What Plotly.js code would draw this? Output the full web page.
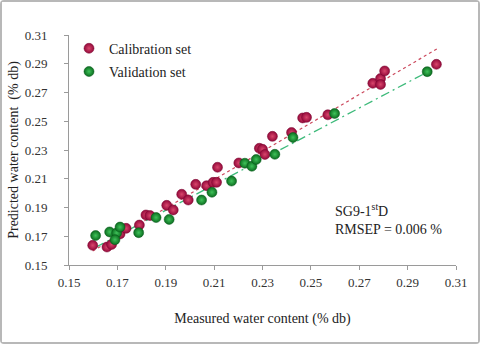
<!DOCTYPE html>
<html>
<head>
<meta charset="utf-8">
<script src="https://cdn.plot.ly/plotly-3.0.1.min.js"></script>
<style>
  html, body { margin: 0; padding: 0; background: #fff; }
  #chart { width: 480px; height: 344px; box-sizing: border-box; border: 2px solid #b8b8b8; border-radius: 4px; }
</style>
</head>
<body>
<div id="chart"></div>
<script>
// calibration set (measured, predicted)
const calX = [0.1598, 0.1657, 0.1676, 0.1711, 0.1736, 0.1791, 0.1818, 0.1835, 0.1904, 0.1931,
              0.1966, 0.1993, 0.2024, 0.2069, 0.2096, 0.2110, 0.2114, 0.2202, 0.2287, 0.2300,
              0.2310, 0.2341, 0.2420, 0.2466, 0.2482, 0.2570, 0.2756, 0.2788, 0.2788, 0.2805, 0.3019];
const calY = [0.1637, 0.1625, 0.1643, 0.1716, 0.1755, 0.1778, 0.1848, 0.1844, 0.1915, 0.1883,
              0.1992, 0.1952, 0.2061, 0.2052, 0.2075, 0.2075, 0.2180, 0.2210, 0.2312, 0.2305,
              0.2269, 0.2395, 0.2422, 0.2523, 0.2527, 0.2545, 0.2764, 0.2797, 0.2756, 0.2850, 0.2896];

// validation set
const valX = [0.1610, 0.1668, 0.1697, 0.1711, 0.1690, 0.1788, 0.1860, 0.1914, 0.2048,
              0.2091, 0.2172, 0.2227, 0.2256, 0.2274, 0.2351, 0.2426, 0.2598, 0.2981];
const valY = [0.1705, 0.1730, 0.1723, 0.1764, 0.1676, 0.1725, 0.1830, 0.1817, 0.1952,
              0.2006, 0.2084, 0.2208, 0.2187, 0.2234, 0.2270, 0.2387, 0.2554, 0.2845];

// trend line end points
const calFitX = [0.1598, 0.3026];
const calFitY = [0.1597, 0.3008];
const valFitX = [0.1610, 0.2971];
const valFitY = [0.1623, 0.2833];

const tickVals = [0.15, 0.17, 0.19, 0.21, 0.23, 0.25, 0.27, 0.29, 0.31];
const tickText = ['0.15', '0.17', '0.19', '0.21', '0.23', '0.25', '0.27', '0.29', '0.31'];

const serif = 'Liberation Serif, Times New Roman, serif';

const calFit = {
    x: calFitX, y: calFitY, mode: 'lines', type: 'scatter', showlegend: false, hoverinfo: 'skip',
    line: { color: '#cc4a5e', width: 1.2, dash: 'dot' }
};
const valFit = {
    x: valFitX, y: valFitY, mode: 'lines', type: 'scatter', showlegend: false, hoverinfo: 'skip',
    line: { color: '#3dba7a', width: 1.3, dash: '9px,4px,2px,4px' }
};

const calTrace = {
    x: calX, y: calY, mode: 'markers', type: 'scatter', name: 'Calibration set',
    legendgroup: 'a',
    marker: { size: 10, color: '#94093a', gradient: { type: 'radial', color: '#d9466c' },
              line: { width: 0.5, color: '#7a0730' } }
};
const valTrace = {
    x: valX, y: valY, mode: 'markers', type: 'scatter', name: 'Validation set',
    legendgroup: 'b',
    marker: { size: 10, color: '#0b6e1f', gradient: { type: 'radial', color: '#3fc25a' },
              line: { width: 0.5, color: '#07561a' } }
};

const axisCommon = {
    range: [0.15, 0.31],
    tickvals: tickVals,
    ticktext: tickText,
    showgrid: false,
    zeroline: false,
    showline: true,
    linecolor: '#9a9a9a',
    linewidth: 1,
    ticks: 'outside',
    ticklen: 4,
    tickcolor: '#9a9a9a',
    tickfont: { family: serif, size: 13, color: '#333' }
};

const layout = {
    width: 476,
    height: 340,
    margin: { l: 67, r: 22, t: 33, b: 77 },
    paper_bgcolor: '#fff',
    plot_bgcolor: '#fff',
    font: { family: serif, color: '#222' },
    xaxis: Object.assign({}, axisCommon, {
        ticklabelstandoff: 1,
        title: { text: 'Measured water content (% db)', font: { family: serif, size: 14, color: '#222' }, standoff: 24 }
    }),
    yaxis: Object.assign({}, axisCommon, {
        ticklabelstandoff: 14,
        title: { text: 'Predicted water content  (% db)', font: { family: serif, size: 14, color: '#222' }, standoff: 2 }
    }),
    showlegend: true,
    legend: {
        x: 0.0, y: 1.01, xanchor: 'left', yanchor: 'top',
        bgcolor: 'rgba(0,0,0,0)',
        font: { family: serif, size: 14, color: '#222' },
        traceorder: 'grouped',
        tracegroupgap: 2,
        itemwidth: 30
    },
    annotations: [{
        xref: 'paper', yref: 'paper', x: 0.682, y: 0.287, xanchor: 'left', yanchor: 'top',
        align: 'left', showarrow: false,
        text: 'SG9-1<sup>st</sup>D<br>RMSEP = 0.006 %',
        font: { family: serif, size: 14, color: '#222' }
    }]
};

Plotly.newPlot('chart', [calFit, valFit, calTrace, valTrace], layout, { displayModeBar: false, staticPlot: true });
</script>
</body>
</html>
